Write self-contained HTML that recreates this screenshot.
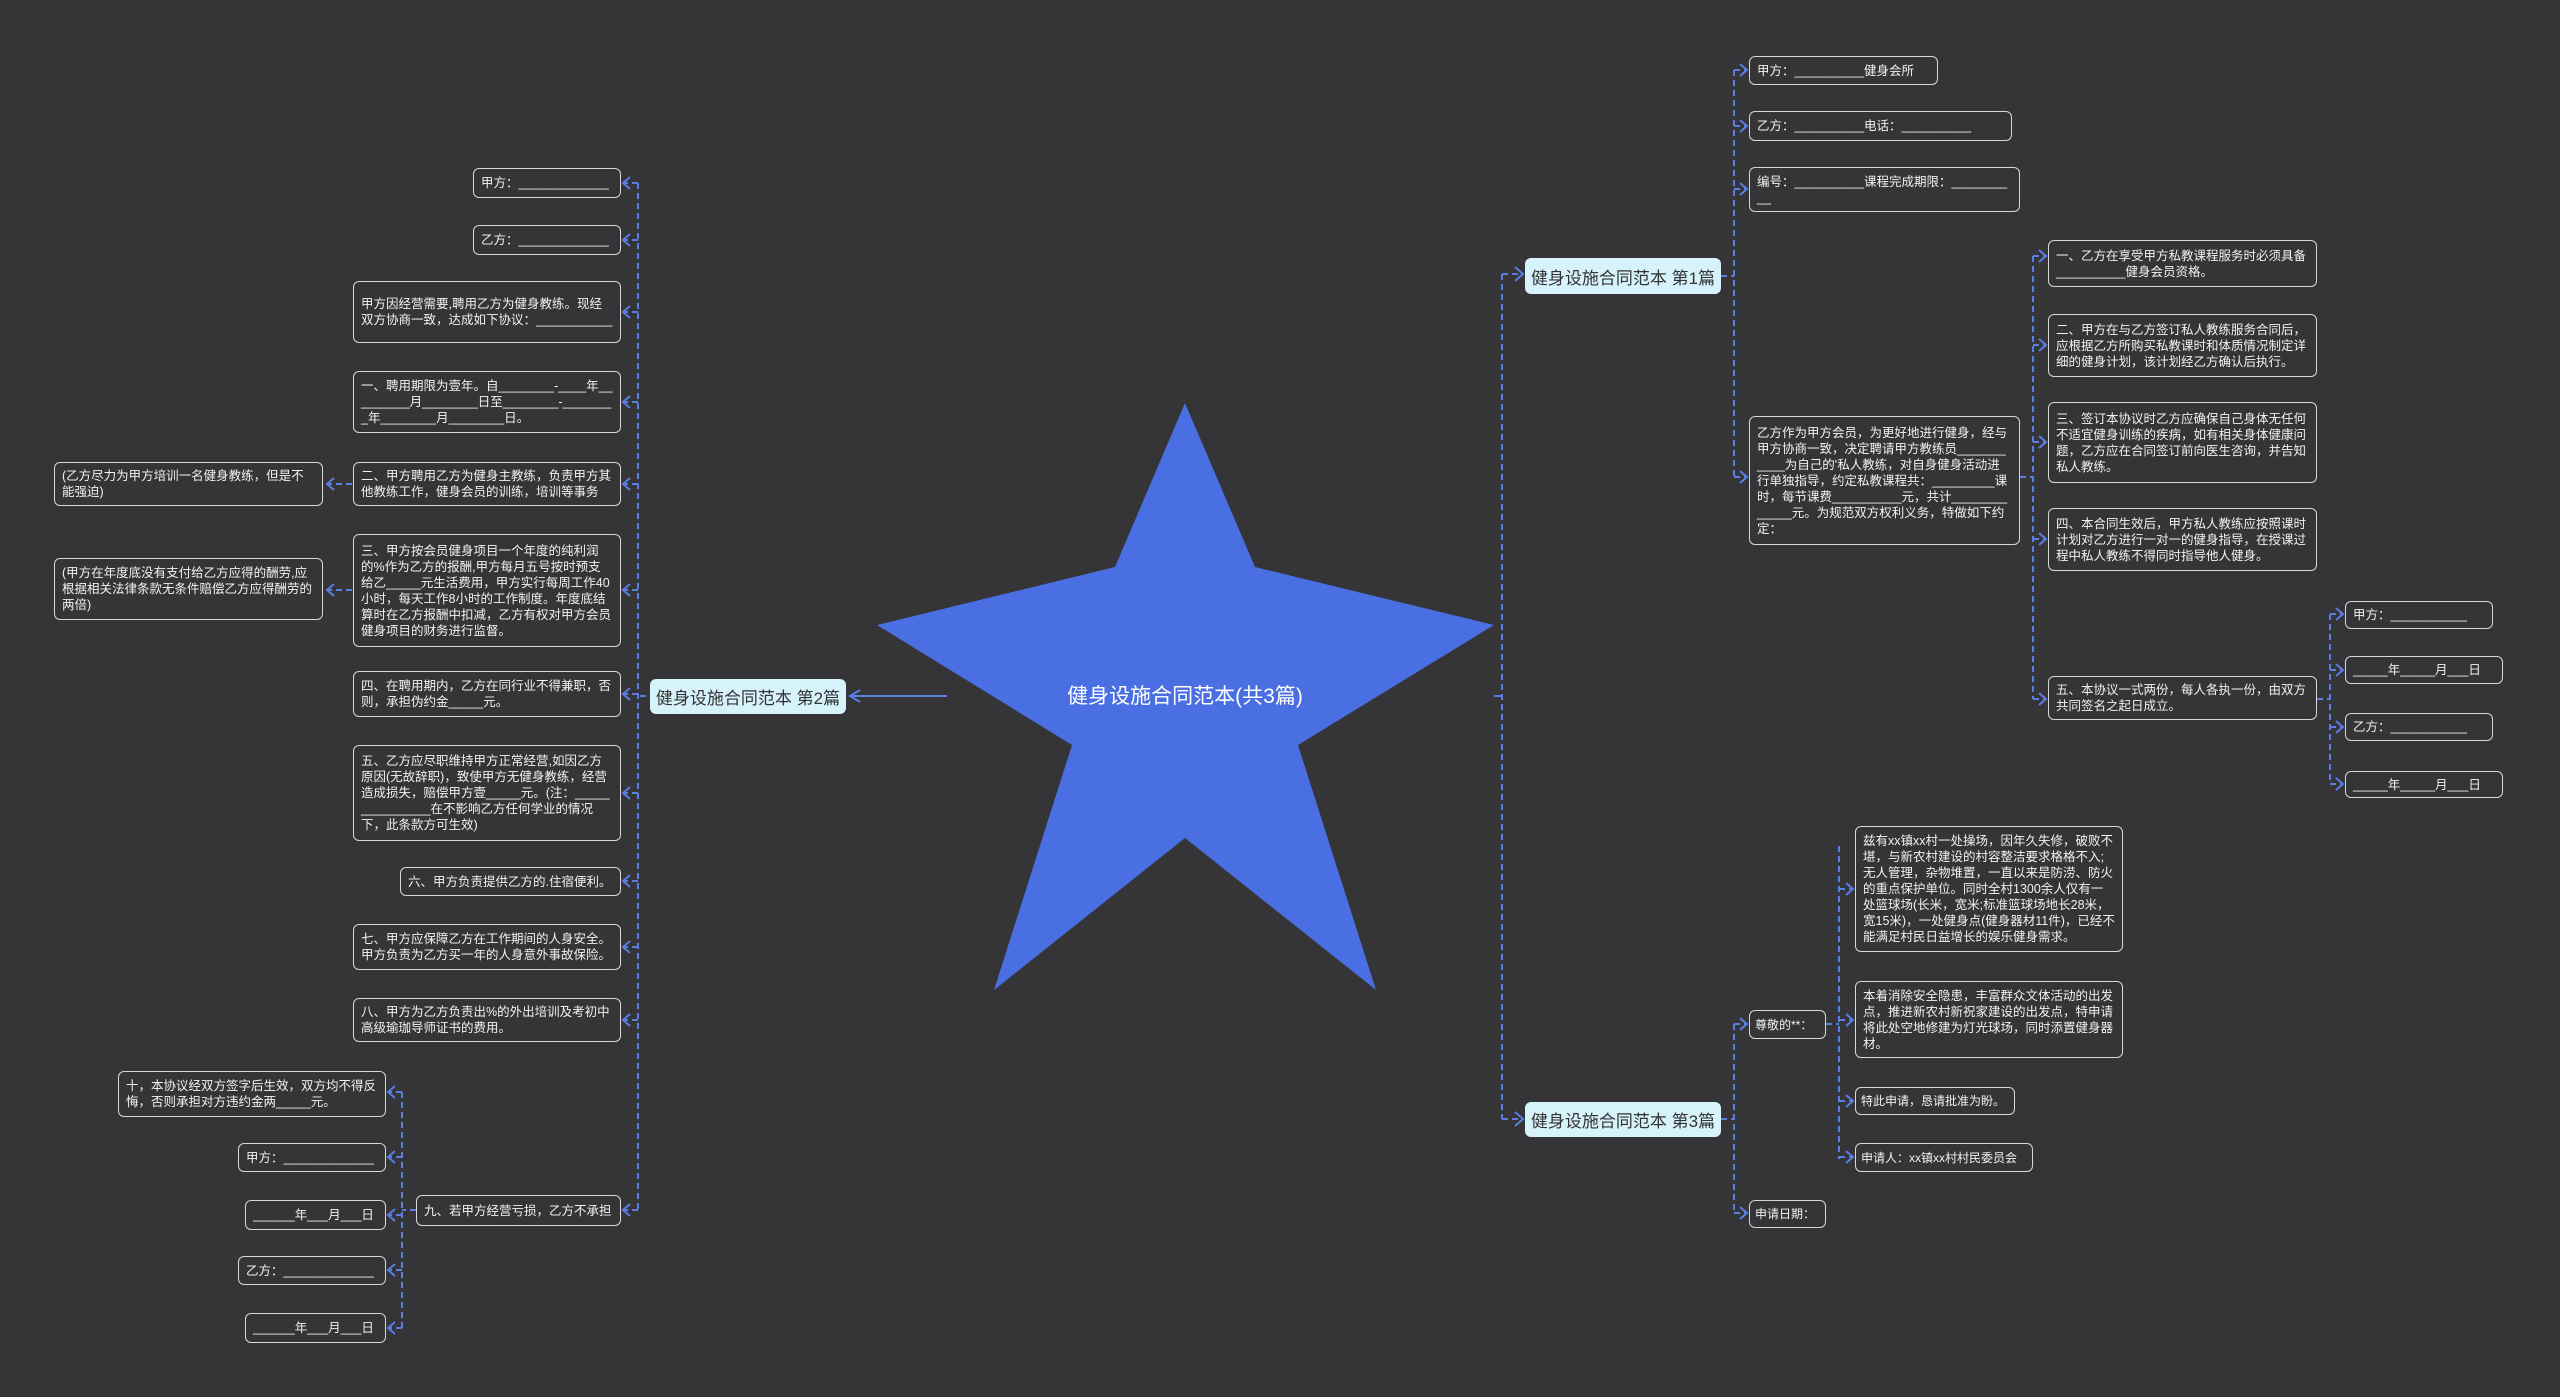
<!DOCTYPE html>
<html><head><meta charset="utf-8"><style>
html,body{margin:0;padding:0;}
body{width:2560px;height:1397px;background:#353437;position:relative;overflow:hidden;font-family:"Liberation Sans","Noto Sans CJK SC",sans-serif;}
.b{position:absolute;box-sizing:border-box;border:1.6px solid #d8d8d8;border-radius:6px;background:#353437;color:#f2f2f2;font-size:12.5px;line-height:16px;padding:4px 7px;display:flex;align-items:center;word-break:break-all;}
.n{white-space:nowrap;overflow:hidden;word-break:normal;}
.m{position:absolute;box-sizing:border-box;border-radius:6px;background:#d6f2fb;color:#333;font-size:17px;display:flex;align-items:center;justify-content:center;}
svg{position:absolute;left:0;top:0;}
</style></head><body>
<svg width="2560" height="1397" viewBox="0 0 2560 1397">
<polygon points="1185,403 1255,567 1494,625 1298,745 1376,990 1185,838 994,990 1072,745 877,625 1115,567" fill="#4a6fe2"/>
<text x="1185" y="703" fill="#fff" font-size="21" text-anchor="middle" font-family="Liberation Sans, Noto Sans CJK SC, sans-serif">健身设施合同范本(共3篇)</text>
<g stroke="#5a7de6" stroke-width="2" fill="none">
<line x1="947" y1="696" x2="850" y2="696"/>
<polyline points="860,690 850,696 860,702"/>
<line x1="1494" y1="696" x2="1502" y2="696"/>
</g>
<g stroke="#5a7de6" stroke-width="2" fill="none" stroke-dasharray="6,4">
<line x1="638" y1="183" x2="638" y2="1210"/>
<line x1="846" y1="696" x2="638" y2="696"/>
<line x1="638" y1="183" x2="624" y2="183"/>
<line x1="638" y1="240" x2="624" y2="240"/>
<line x1="638" y1="312" x2="624" y2="312"/>
<line x1="638" y1="402" x2="624" y2="402"/>
<line x1="638" y1="484" x2="624" y2="484"/>
<line x1="638" y1="590" x2="624" y2="590"/>
<line x1="638" y1="694" x2="624" y2="694"/>
<line x1="638" y1="793" x2="624" y2="793"/>
<line x1="638" y1="881" x2="624" y2="881"/>
<line x1="638" y1="947" x2="624" y2="947"/>
<line x1="638" y1="1020" x2="624" y2="1020"/>
<line x1="638" y1="1210" x2="624" y2="1210"/>
<line x1="352" y1="484" x2="327" y2="484"/>
<line x1="352" y1="590" x2="327" y2="590"/>
<line x1="402" y1="1092" x2="402" y2="1328"/>
<line x1="416" y1="1210" x2="402" y2="1210"/>
<line x1="402" y1="1092" x2="389" y2="1092"/>
<line x1="402" y1="1157" x2="389" y2="1157"/>
<line x1="402" y1="1215" x2="389" y2="1215"/>
<line x1="402" y1="1270" x2="389" y2="1270"/>
<line x1="402" y1="1328" x2="389" y2="1328"/>
<line x1="1502" y1="274" x2="1502" y2="1119"/>
<line x1="1502" y1="274" x2="1521" y2="274"/>
<line x1="1502" y1="1119" x2="1521" y2="1119"/>
<line x1="1721" y1="276" x2="1734" y2="276"/>
<line x1="1734" y1="70" x2="1734" y2="477"/>
<line x1="1734" y1="70" x2="1745" y2="70"/>
<line x1="1734" y1="126" x2="1745" y2="126"/>
<line x1="1734" y1="189" x2="1745" y2="189"/>
<line x1="1734" y1="477" x2="1745" y2="477"/>
<line x1="2020" y1="477" x2="2033" y2="477"/>
<line x1="2033" y1="256" x2="2033" y2="699"/>
<line x1="2033" y1="256" x2="2044" y2="256"/>
<line x1="2033" y1="345" x2="2044" y2="345"/>
<line x1="2033" y1="442" x2="2044" y2="442"/>
<line x1="2033" y1="539" x2="2044" y2="539"/>
<line x1="2033" y1="699" x2="2044" y2="699"/>
<line x1="2317" y1="699" x2="2330" y2="699"/>
<line x1="2330" y1="614" x2="2330" y2="784"/>
<line x1="2330" y1="614" x2="2341" y2="614"/>
<line x1="2330" y1="670" x2="2341" y2="670"/>
<line x1="2330" y1="727" x2="2341" y2="727"/>
<line x1="2330" y1="784" x2="2341" y2="784"/>
<line x1="1721" y1="1119" x2="1734" y2="1119"/>
<line x1="1734" y1="1024" x2="1734" y2="1213"/>
<line x1="1734" y1="1024" x2="1745" y2="1024"/>
<line x1="1734" y1="1213" x2="1745" y2="1213"/>
<line x1="1826" y1="1024" x2="1839" y2="1024"/>
<line x1="1839" y1="846" x2="1839" y2="1159"/>
<line x1="1839" y1="889" x2="1851" y2="889"/>
<line x1="1839" y1="1020" x2="1851" y2="1020"/>
<line x1="1839" y1="1101" x2="1851" y2="1101"/>
<line x1="1839" y1="1157" x2="1851" y2="1157"/>
</g>
<g stroke="#5a7de6" stroke-width="2" fill="none">
<polyline points="630,177 623,183 630,189"/>
<polyline points="630,234 623,240 630,246"/>
<polyline points="630,306 623,312 630,318"/>
<polyline points="630,396 623,402 630,408"/>
<polyline points="630,478 623,484 630,490"/>
<polyline points="630,584 623,590 630,596"/>
<polyline points="630,688 623,694 630,700"/>
<polyline points="630,787 623,793 630,799"/>
<polyline points="630,875 623,881 630,887"/>
<polyline points="630,941 623,947 630,953"/>
<polyline points="630,1014 623,1020 630,1026"/>
<polyline points="630,1204 623,1210 630,1216"/>
<polyline points="334,478 327,484 334,490"/>
<polyline points="334,584 327,590 334,596"/>
<polyline points="395,1086 388,1092 395,1098"/>
<polyline points="395,1151 388,1157 395,1163"/>
<polyline points="395,1209 388,1215 395,1221"/>
<polyline points="395,1264 388,1270 395,1276"/>
<polyline points="395,1322 388,1328 395,1334"/>
<polyline points="1515,267 1523,274 1515,281"/>
<polyline points="1515,1112 1523,1119 1515,1126"/>
<polyline points="1740,64 1747,70 1740,76"/>
<polyline points="1740,120 1747,126 1740,132"/>
<polyline points="1740,183 1747,189 1740,195"/>
<polyline points="1740,471 1747,477 1740,483"/>
<polyline points="2039,250 2046,256 2039,262"/>
<polyline points="2039,339 2046,345 2039,351"/>
<polyline points="2039,436 2046,442 2039,448"/>
<polyline points="2039,533 2046,539 2039,545"/>
<polyline points="2039,693 2046,699 2039,705"/>
<polyline points="2336,608 2343,614 2336,620"/>
<polyline points="2336,664 2343,670 2336,676"/>
<polyline points="2336,721 2343,727 2336,733"/>
<polyline points="2336,778 2343,784 2336,790"/>
<polyline points="1740,1018 1747,1024 1740,1030"/>
<polyline points="1740,1207 1747,1213 1740,1219"/>
<polyline points="1846,883 1853,889 1846,895"/>
<polyline points="1846,1014 1853,1020 1846,1026"/>
<polyline points="1846,1095 1853,1101 1846,1107"/>
<polyline points="1846,1151 1853,1157 1846,1163"/>
</g>
</svg>

<div class="m" style="left:650px;top:679px;width:196px;height:35px;">健身设施合同范本 第2篇</div>
<div class="m" style="left:1525px;top:258px;width:196px;height:36px;">健身设施合同范本 第1篇</div>
<div class="m" style="left:1525px;top:1102px;width:196px;height:35px;">健身设施合同范本 第3篇</div>

<div class="b n" style="left:473px;top:168px;width:148px;height:30px;">甲方：_____________</div>
<div class="b n" style="left:473px;top:225px;width:148px;height:30px;">乙方：_____________</div>
<div class="b" style="left:353px;top:281px;width:268px;height:62px;">甲方因经营需要,聘用乙方为健身教练。现经双方协商一致，达成如下协议：___________</div>
<div class="b" style="left:353px;top:371px;width:268px;height:62px;">一、聘用期限为壹年。自________-____年_________月________日至________-________年________月________日。</div>
<div class="b" style="left:353px;top:462px;width:268px;height:44px;">二、甲方聘用乙方为健身主教练，负责甲方其他教练工作，健身会员的训练，培训等事务</div>
<div class="b" style="left:54px;top:462px;width:269px;height:44px;">(乙方尽力为甲方培训一名健身教练，但是不能强迫)</div>
<div class="b" style="left:353px;top:534px;width:268px;height:113px;">三、甲方按会员健身项目一个年度的纯利润的%作为乙方的报酬,甲方每月五号按时预支给乙_____元生活费用，甲方实行每周工作40小时，每天工作8小时的工作制度。年度底结算时在乙方报酬中扣减，乙方有权对甲方会员健身项目的财务进行监督。</div>
<div class="b" style="left:54px;top:558px;width:269px;height:62px;">(甲方在年度底没有支付给乙方应得的酬劳,应根据相关法律条款无条件赔偿乙方应得酬劳的两倍)</div>
<div class="b" style="left:353px;top:671px;width:268px;height:46px;">四、在聘用期内，乙方在同行业不得兼职，否则，承担伪约金_____元。</div>
<div class="b" style="left:353px;top:745px;width:268px;height:96px;">五、乙方应尽职维持甲方正常经营,如因乙方原因(无故辞职)，致使甲方无健身教练，经营造成损失，赔偿甲方壹_____元。(注：_______________在不影响乙方任何学业的情况下，此条款方可生效)</div>
<div class="b n" style="left:400px;top:867px;width:221px;height:29px;">六、甲方负责提供乙方的.住宿便利。</div>
<div class="b" style="left:353px;top:924px;width:268px;height:46px;">七、甲方应保障乙方在工作期间的人身安全。甲方负责为乙方买一年的人身意外事故保险。</div>
<div class="b" style="left:353px;top:998px;width:268px;height:44px;">八、甲方为乙方负责出%的外出培训及考初中高级瑜珈导师证书的费用。</div>
<div class="b n" style="left:416px;top:1195px;width:205px;height:31px;">九、若甲方经营亏损，乙方不承担</div>
<div class="b" style="left:118px;top:1071px;width:268px;height:46px;">十，本协议经双方签字后生效，双方均不得反悔，否则承担对方违约金两_____元。</div>
<div class="b n" style="left:238px;top:1143px;width:148px;height:29px;">甲方：_____________</div>
<div class="b n" style="left:245px;top:1200px;width:141px;height:30px;">______年___月___日</div>
<div class="b n" style="left:238px;top:1256px;width:148px;height:29px;">乙方：_____________</div>
<div class="b n" style="left:245px;top:1313px;width:141px;height:30px;">______年___月___日</div>

<div class="b n" style="left:1749px;top:56px;width:189px;height:29px;">甲方：__________健身会所</div>
<div class="b n" style="left:1749px;top:111px;width:263px;height:30px;">乙方：__________电话：__________</div>
<div class="b" style="left:1749px;top:167px;width:271px;height:45px;">编号：__________课程完成期限：__________</div>
<div class="b" style="left:1749px;top:416px;width:271px;height:129px;">乙方作为甲方会员，为更好地进行健身，经与甲方协商一致，决定聘请甲方教练员___________为自己的'私人教练，对自身健身活动进行单独指导，约定私教课程共：_________课时，每节课费__________元，共计_____________元。为规范双方权利义务，特做如下约定：</div>
<div class="b" style="left:2048px;top:240px;width:269px;height:47px;">一、乙方在享受甲方私教课程服务时必须具备__________健身会员资格。</div>
<div class="b" style="left:2048px;top:314px;width:269px;height:63px;">二、甲方在与乙方签订私人教练服务合同后，应根据乙方所购买私教课时和体质情况制定详细的健身计划，该计划经乙方确认后执行。</div>
<div class="b" style="left:2048px;top:402px;width:269px;height:81px;">三、签订本协议时乙方应确保自己身体无任何不适宜健身训练的疾病，如有相关身体健康问题，乙方应在合同签订前向医生咨询，并告知私人教练。</div>
<div class="b" style="left:2048px;top:508px;width:269px;height:63px;">四、本合同生效后，甲方私人教练应按照课时计划对乙方进行一对一的健身指导，在授课过程中私人教练不得同时指导他人健身。</div>
<div class="b" style="left:2048px;top:676px;width:269px;height:44px;">五、本协议一式两份，每人各执一份，由双方共同签名之起日成立。</div>
<div class="b n" style="left:2345px;top:601px;width:148px;height:28px;">甲方：___________</div>
<div class="b n" style="left:2345px;top:656px;width:158px;height:28px;">_____年_____月___日</div>
<div class="b n" style="left:2345px;top:713px;width:148px;height:28px;">乙方：___________</div>
<div class="b n" style="left:2345px;top:771px;width:158px;height:27px;">_____年_____月___日</div>

<div class="b n" style="left:1749px;top:1010px;width:77px;height:29px;font-size:12px;padding:4px 5px;">尊敬的**：</div>
<div class="b n" style="left:1749px;top:1200px;width:77px;height:28px;font-size:12px;padding:4px 5px;">申请日期：</div>
<div class="b" style="left:1855px;top:826px;width:268px;height:126px;">兹有xx镇xx村一处操场，因年久失修，破败不堪，与新农村建设的村容整洁要求格格不入;无人管理，杂物堆置，一直以来是防涝、防火的重点保护单位。同时全村1300余人仅有一处篮球场(长米，宽米;标准篮球场地长28米，宽15米)，一处健身点(健身器材11件)，已经不能满足村民日益增长的娱乐健身需求。</div>
<div class="b" style="left:1855px;top:981px;width:268px;height:77px;">本着消除安全隐患，丰富群众文体活动的出发点，推进新农村新祝家建设的出发点，特申请将此处空地修建为灯光球场，同时添置健身器材。</div>
<div class="b n" style="left:1855px;top:1087px;width:160px;height:28px;font-size:12px;padding:4px 5px;">特此申请，恳请批准为盼。</div>
<div class="b n" style="left:1855px;top:1143px;width:178px;height:29px;font-size:12px;padding:4px 5px;">申请人：xx镇xx村村民委员会</div>
</body></html>
